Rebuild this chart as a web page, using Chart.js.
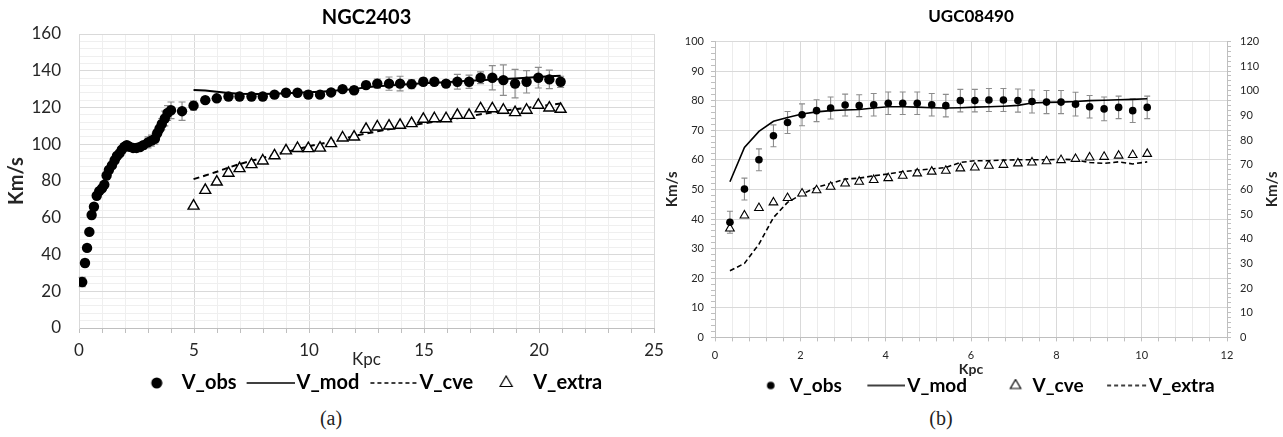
<!DOCTYPE html>
<html>
<head>
<meta charset="utf-8">
<script src="https://cdn.jsdelivr.net/npm/chart.js@4.4.0/dist/chart.umd.min.js"></script>
<style>
html,body{margin:0;padding:0;background:#fff;overflow:hidden;width:1283px;height:437px}
.box{position:absolute;top:0}
#wa{left:0}
#wb{left:660px}
.cap{position:absolute;top:407px;width:60px;text-align:center;font:20px "Liberation Serif",serif;color:#222}
</style>
</head>
<body>
<div id="wa" class="box"><canvas id="ca" width="730" height="403"></canvas></div>
<div id="wb" class="box"><canvas id="cb" width="623" height="405"></canvas></div>
<div class="cap" style="left:301px">(a)</div>
<div class="cap" style="left:911px">(b)</div>
<script>
// (a) NGC2403 - observed points
const ngcObsX = [0.14,0.26,0.35,0.45,0.55,0.65,0.77,0.88,1.0,1.1,1.2,1.3,1.43,1.55,1.65,1.76,1.86,1.97,2.08,2.2,
  2.35,2.5,2.65,2.8,3.0,3.15,3.3,3.4,3.5,3.6,3.73,3.85,4.0,4.48,4.98,5.49,5.99,6.5,6.98,7.5,7.99,8.5,9.0,
  9.5,9.97,10.48,10.96,11.46,11.96,12.48,12.97,13.48,13.96,14.46,14.97,15.45,15.96,16.45,16.96,17.46,17.97,18.45,18.96,
  19.46,19.97,20.45,20.94];
const ngcObs = [25,35.4,43.6,52.3,61.5,66,72,74.5,76,78,83,86,88.5,91.3,93.6,95,97,98.6,99.5,98.6,
  98,98,98.5,99.5,101,102,103,106,108.5,111,114,117,118.5,118,121,124,125,126,126,126,126,127,128,
  128,127,127,128.2,130,129.4,132.2,133,133,133,132.7,134,134,133,134,134,136.2,136.2,134.9,133,
  134,136.2,135.3,134];
const ngcErr = [2.5,2,1.5,1.5,2,1.5,1.5,1.5,1.5,1.5,1.5,1.5,1.5,1.5,1.5,1.5,1.5,1.5,1.5,1.5,
  1.5,1.5,1.5,2,3,3,3,2,2,3,4,4,4.5,5,2.5,1.5,1.5,1.5,1.5,1.5,1.5,1.5,1.5,
  1.5,2,1.5,1.5,1.5,2,2,2.5,3.6,4,2.5,2,1.5,1.5,4,3.6,3.2,6.6,8.3,7.8,
  6.1,5.6,5,3];
// (a) model curves, on the outer radii
const ngcOutX = [4.98,5.49,5.99,6.5,6.98,7.5,7.99,8.5,9.0,9.5,9.97,10.48,10.96,11.46,11.96,12.48,12.97,13.48,13.96,14.46,
  14.97,15.45,15.96,16.45,16.96,17.46,17.97,18.45,18.96,19.46,19.97,20.45,20.94];
const ngcMod = [129.5,129.3,128.6,127.9,127.5,127.3,127.3,127.5,127.7,128,128.3,128.6,129,129.5,130,131,131.6,132,132.4,132.8,
  133.2,133.5,133.8,134.1,134.5,134.8,135.2,135.5,135.8,136.2,136.6,137,137.3];
const ngcCve = [81,83,85,87.3,89.2,91,92.6,94.2,95.8,97.3,98.8,100.2,101.5,102.8,104.5,105.8,107,108.2,109.3,110.3,
  111.3,112.2,113.2,114.2,115.2,116.3,117.3,118.2,119,119.8,120.6,121.4,122.2];
const ngcExtra = [66.4,75,79.5,84.3,86.8,89,91,93.8,96.5,97.8,97.7,98,100.4,103.5,104,108.2,109.5,110,110.4,111.3,
  113.7,114,114,115.8,115.8,119.4,119.4,118.6,117.3,118.6,121.3,119.8,119.1];

// (b) UGC08490
const ugcX = [0.35,0.69,1.03,1.37,1.70,2.04,2.38,2.71,3.05,3.38,3.72,4.06,4.40,4.74,5.08,5.41,5.75,6.09,6.42,6.76,
  7.10,7.43,7.77,8.11,8.45,8.78,9.12,9.46,9.79,10.13];
const ugcObs = [38.9,50.1,60,68.1,72.6,75.2,76.6,77.5,78.5,78.3,78.6,79.1,79.1,79.1,78.6,78.3,80,80,80.2,80.2,
  80,79.7,79.5,79.5,78.8,77.9,77.2,77.7,76.6,77.7];
const ugcErr = [3.7,3.7,3.7,3.7,3.7,3.7,3.7,3.7,3.7,3.7,3.8,3.8,3.8,3.8,3.8,3.8,3.8,3.8,3.9,3.9,
  3.9,3.9,3.9,3.9,4,3.8,4,3.8,4,3.8];
const ugcMod = [52.6,64.2,69.6,73,74.3,75.5,76.2,76.6,76.8,77,77.5,77.9,77.9,77.8,77.6,77.5,77.6,77.8,77.9,78.1,
  78.4,79.2,79.4,79.5,79.7,80,80.1,80.3,80.4,80.6];
const ugcCve = [36.8,41.2,43.7,45.6,47.1,48.6,49.7,50.9,52,52.6,53.2,53.8,54.6,55.4,56,56.3,57.1,57.4,58,58.3,
  58.8,59.1,59.5,59.9,60.3,60.8,61,61.4,61.6,62];
const ugcExtra = [22.5,25,31.5,40.5,45.6,48.4,50.7,52,53.5,53.8,54.6,55.2,56,56.5,56.9,57.4,59.1,59.7,59.7,59.9,
  60,60,60,60.2,60,59.1,58.8,59.3,58.6,59.3];

const pts = (xs, ys) => xs.map((x, i) => ({x, y: ys[i]}));
const isMul = (v, m) => Math.abs(v / m - Math.round(v / m)) < 1e-6;

Chart.defaults.font.family = 'Lato';
Chart.defaults.color = '#262626';

// little canvases used as legend symbols; cx = where the symbol sits inside the canvas
function marker(kind, w, h, size, cx, dash){
  const c = document.createElement('canvas'); c.width = w; c.height = h;
  const g = c.getContext('2d'); g.strokeStyle = '#000'; g.fillStyle = '#000';
  if (kind === 'dot'){ g.beginPath(); g.arc(cx, h/2, size, 0, Math.PI*2); g.fill(); }
  else if (kind === 'tri'){
    g.lineWidth = 1.2; g.beginPath();
    g.moveTo(cx, h/2 - size); g.lineTo(cx + size*0.87, h/2 + size*0.5); g.lineTo(cx - size*0.87, h/2 + size*0.5);
    g.closePath(); g.stroke();
  } else {
    g.lineWidth = size; if (dash) g.setLineDash(dash);
    g.beginPath(); g.moveTo(cx, h/2); g.lineTo(w, h/2); g.stroke();
  }
  return c;
}
const item = (text, sym) => ({text, pointStyle: sym, fillStyle:'#000', strokeStyle:'#000', lineWidth:0, hidden:false, fontColor:'#000'});

const errorBars = {
  id: 'errorBars',
  beforeDatasetsDraw(chart, args, o){
    const ds = chart.data.datasets[0], xs = chart.scales.x, ys = chart.scales.y, ctx = chart.ctx;
    ctx.save(); ctx.strokeStyle = o.color; ctx.lineWidth = o.width;
    ds.data.forEach((p, i) => {
      const px = xs.getPixelForValue(p.x), y1 = ys.getPixelForValue(p.y + o.err[i]), y2 = ys.getPixelForValue(p.y - o.err[i]);
      ctx.beginPath();
      ctx.moveTo(px, y1); ctx.lineTo(px, y2);
      ctx.moveTo(px - o.cap, y1); ctx.lineTo(px + o.cap, y1);
      ctx.moveTo(px - o.cap, y2); ctx.lineTo(px + o.cap, y2);
      ctx.stroke();
    });
    ctx.restore();
  }
};

// right-hand axis title reading upward, like the left one
const rightTitle = {
  id: 'rightTitle',
  afterDraw(chart, args, o){
    const s = chart.scales.y2, ctx = chart.ctx;
    ctx.save(); ctx.font = o.font; ctx.fillStyle = o.color; ctx.textAlign = 'center'; ctx.textBaseline = 'middle';
    ctx.translate(o.x, (s.top + s.bottom) / 2); ctx.rotate(-Math.PI/2); ctx.fillText(o.text, 0, 0);
    ctx.restore();
  }
};

const padAxis = w => ({position:'right', weight:10, grid:{display:false}, ticks:{display:false}, border:{display:false}, afterFit: s => { s.width = w; }});

// ---------- (a) ----------
const legA = [
  item('V_obs', marker('dot', 26, 14, 5.5, 20)),
  item('V_mod', marker('line', 60, 6, 1.6, 12)),
  item('V_cve', marker('line', 60, 6, 1.6, 13, [4, 3])),
  item('V_extra', marker('tri', 26, 16, 7, 18))
];
new Chart(document.getElementById('ca'), {
  type: 'scatter',
  data: { datasets: [
    { label:'V_obs', data: pts(ngcObsX, ngcObs), pointRadius:5.2, pointBackgroundColor:'#000', pointBorderWidth:0 },
    { label:'V_extra', data: pts(ngcOutX, ngcExtra), pointStyle:'triangle', pointRadius:6.3, pointBackgroundColor:'#fff', pointBorderColor:'#000', pointBorderWidth:1.4 },
    { label:'V_mod', data: pts(ngcOutX, ngcMod), showLine:true, borderColor:'#000', borderWidth:2, pointRadius:0 },
    { label:'V_cve', data: pts(ngcOutX, ngcCve), showLine:true, borderColor:'#000', borderWidth:2, borderDash:[6, 4], pointRadius:0 }
  ]},
  options: {
    responsive:false, animation:false, events:[],
    scales: {
      x: { type:'linear', min:0, max:25,
        ticks:{ stepSize:1, autoSkip:false, maxRotation:0, padding:7, font:{size:17}, callback: v => isMul(v, 5) ? v : '' },
        grid:{ color: c => isMul(c.tick.value, 5) ? '#d9d9d9' : '#efefef', tickColor:'#bfbfbf', tickLength:5 },
        border:{ color:'#bfbfbf' },
        title:{ display:true, text:'Kpc', font:{size:17}, padding:{top:0, bottom:-3} },
        afterFit: s => { s.height = 39; } },
      y: { min:0, max:160,
        ticks:{ stepSize:4, autoSkip:false, padding:18, font:{size:17}, callback: v => isMul(v, 20) ? v : '' },
        grid:{ color: c => isMul(c.tick.value, 20) ? '#d9d9d9' : '#efefef', drawTicks:false },
        border:{ color:'#d9d9d9' },
        title:{ display:true, text:'Km/s', font:{size:20, weight:'bold'}, padding:{top:5, bottom:0} },
        afterFit: s => { s.width = 79; } },
      pad: padAxis(76)
    },
    plugins: {
      title:{ display:true, text:'NGC2403', fullSize:false, color:'#000', font:{size:20, weight:'bold'}, padding:{top:6, bottom:4} },
      legend:{ position:'bottom', labels:{ usePointStyle:true, pointStyleWidth:44, boxHeight:16, padding:6, font:{size:20, weight:'bold'}, color:'#000', generateLabels: () => legA } },
      tooltip:{ enabled:false },
      errorBars:{ err: ngcErr, color:'#8c8c8c', width:1.2, cap:3.5 }
    }
  },
  plugins: [errorBars]
});

// ---------- (b) ----------
const legB = [
  item('V_obs', marker('dot', 43, 10, 3.8, 38)),
  item('V_mod', marker('line', 67, 6, 1.4, 29)),
  item('V_cve', marker('tri', 51, 14, 6, 44)),
  item('V_extra', marker('line', 67, 6, 1.4, 27, [4, 3]))
];
new Chart(document.getElementById('cb'), {
  type: 'scatter',
  data: { datasets: [
    { label:'V_obs', data: pts(ugcX, ugcObs), pointRadius:3.8, pointBackgroundColor:'#000', pointBorderWidth:0 },
    { label:'V_cve', data: pts(ugcX, ugcCve), pointStyle:'triangle', pointRadius:5, pointBackgroundColor:'#fff', pointBorderColor:'#000', pointBorderWidth:1.1 },
    { label:'V_mod', data: pts(ugcX, ugcMod), showLine:true, borderColor:'#000', borderWidth:1.6, pointRadius:0 },
    { label:'V_extra', data: pts(ugcX, ugcExtra), showLine:true, borderColor:'#000', borderWidth:1.6, borderDash:[5, 3], pointRadius:0 }
  ]},
  options: {
    responsive:false, animation:false, events:[],
    scales: {
      x: { type:'linear', min:0, max:12,
        ticks:{ stepSize:0.4, autoSkip:false, maxRotation:0, padding:7, font:{size:11}, callback: v => isMul(v, 2) ? Math.round(v) : '' },
        grid:{ color: c => isMul(c.tick.value, 2) ? '#d9d9d9' : '#ececec', tickColor:'#bfbfbf', tickLength:4 },
        border:{ color:'#bfbfbf' },
        title:{ display:true, text:'Kpc', font:{size:14, weight:'bold'}, padding:{top:0, bottom:-6} },
        afterFit: s => { s.height = 34.6; } },
      y: { min:0, max:100,
        ticks:{ stepSize:2, autoSkip:false, padding:7, font:{size:11}, callback: v => isMul(v, 10) ? v : '' },
        grid:{ color: c => isMul(c.tick.value, 10) ? '#d9d9d9' : 'rgba(0,0,0,0)', tickColor:'#bfbfbf', tickLength:4 },
        border:{ color:'#bfbfbf' },
        title:{ display:true, text:'Km/s', font:{size:15, weight:'bold'}, padding:{top:3, bottom:0} },
        afterFit: s => { s.width = 55; } },
      y2: { position:'right', min:0, max:120,
        ticks:{ stepSize:2, autoSkip:false, padding:9, font:{size:11}, callback: v => isMul(v, 10) ? v : '' },
        grid:{ drawOnChartArea:false, tickColor:'#bfbfbf', tickLength:4 },
        border:{ color:'#bfbfbf' },
        afterFit: s => { s.width = 56; } }
    },
    plugins: {
      title:{ display:true, text:'UGC08490', fullSize:false, color:'#000', font:{size:17, weight:'bold'}, padding:{top:6, bottom:15} },
      legend:{ position:'bottom', labels:{ usePointStyle:true, pointStyleWidth:52, boxHeight:15, padding:4, font:{size:19, weight:'bold'}, color:'#000', generateLabels: () => legB } },
      tooltip:{ enabled:false },
      errorBars:{ err: ugcErr, color:'#8c8c8c', width:1.1, cap:3 },
      rightTitle:{ text:'Km/s', font:'bold 15px Lato', color:'#262626', x:612 }
    }
  },
  plugins: [errorBars, rightTitle]
});
</script>
</body>
</html>
